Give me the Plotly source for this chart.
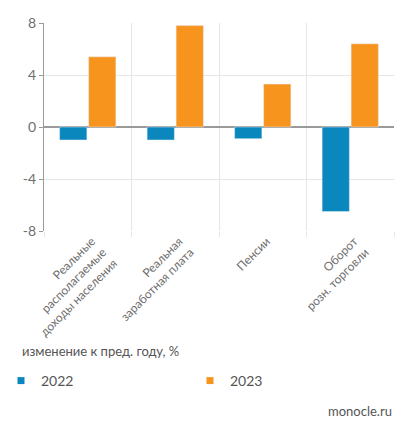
import plotly.graph_objects as go

categories = ["Реальные<br>располагаемые<br>доходы населения",
              "Реальная<br>заработная плата",
              "Пенсии",
              "Оборот<br>розн. торговли"]
values_2022 = [-1.0, -1.0, -0.9, -6.5]
values_2023 = [5.4, 7.8, 3.3, 6.4]
y_ticks = [-8, -4, 0, 4, 8]
y_tick_labels = ["-8", "-4", "0", "4", "8"]

BLUE = "#0a87bd"
ORANGE = "#f7941d"
FONT = "Lato, 'Open Sans', sans-serif"
GREY = "#6e6e6e"

# page offset of the plot div inside the browser window
OX, OY = 8, 10
W, H = 415 - OX, 439 - OY
L, R, T, B = 44 - OX, 21, 25 - OY, 206
PH = H - T - B
PW = W - L - R

def py(pix):  # pix in window coordinates
    return (H - B - (pix - OY)) / PH

def px(pix):
    return (pix - OX - L) / PW

fig = go.Figure()
fig.add_trace(go.Bar(x=categories, y=values_2022, marker_color=BLUE, showlegend=False, name="2022"))
fig.add_trace(go.Bar(x=categories, y=values_2023, marker_color=ORANGE, showlegend=False, name="2023"))
# legend entries with small square markers
fig.add_trace(go.Scatter(x=[None], y=[None], mode="markers", name="2022",
                         marker=dict(symbol="square", size=7, color=BLUE)))
fig.add_trace(go.Scatter(x=[None], y=[None], mode="markers", name="2023",
                         marker=dict(symbol="square", size=7, color=ORANGE)))

fig.update_layout(
    width=W, height=H,
    margin=dict(l=L, r=R, t=T, b=B, autoexpand=False),
    paper_bgcolor="white", plot_bgcolor="white",
    font=dict(family=FONT, color=GREY, size=13),
    barmode="group", bargap=0.337, bargroupgap=0.06,
    legend=dict(orientation="h", x=px(1), xanchor="left", y=py(383), yanchor="middle",
                entrywidth=144, entrywidthmode="pixels",
                font=dict(size=14, color="#555555"), itemwidth=30),
    annotations=[
        dict(text="изменение к пред. году, %", xref="paper", yref="paper",
             x=px(20), y=py(353), xanchor="left", yanchor="middle", showarrow=False,
             font=dict(size=13, color="#555555")),
        dict(text="monocle.ru", xref="paper", yref="paper",
             x=px(394), y=py(413), xanchor="right", yanchor="middle", showarrow=False,
             font=dict(size=13, color="#555555")),
    ],
)
fig.update_yaxes(range=[-8, 8], tickvals=y_ticks, ticktext=y_tick_labels, automargin=False,
                 showgrid=True, gridcolor="#e6e6e6",
                 zeroline=True, zerolinecolor="#9a9a9a", zerolinewidth=1.5,
                 showline=True, linecolor="#9a9a9a", ticks="outside", ticklen=4, tickcolor="#9a9a9a",
                 tickfont=dict(size=14, color=GREY))
fig.update_xaxes(showgrid=True, gridcolor="#e6e6e6", tickson="boundaries", automargin=False,
                 ticks="outside", ticklen=5, tickcolor="#e6e6e6",
                 tickangle=-45, tickfont=dict(size=12, color=GREY), ticklabelshift=4,
                 showline=False, range=[-0.5, 3.5])
fig.write_html("out.html")
